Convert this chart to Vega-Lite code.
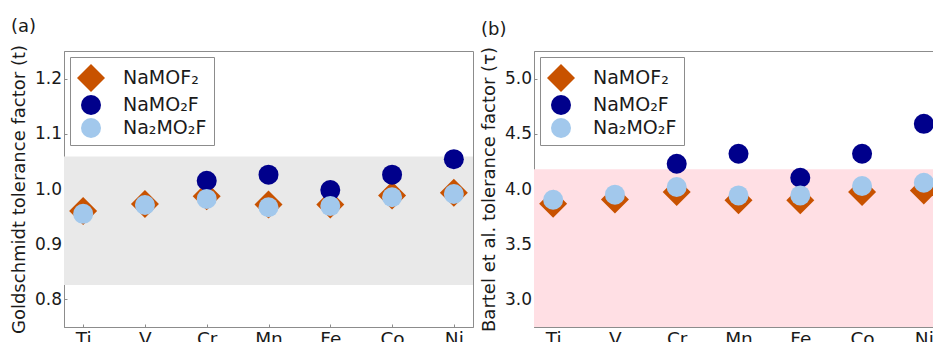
{
  "$schema": "https://vega.github.io/schema/vega-lite/v6.json",
  "padding": {"left": 10, "top": 17, "right": 0, "bottom": 0},
  "spacing": 6,
  "background": "white",
  "config": {
    "font": "DejaVu Sans",
    "view": {"stroke": "#8c8c8c", "strokeWidth": 1},
    "axis": {
      "domainColor": "#8c8c8c",
      "tickColor": "#8c8c8c",
      "tickSize": -3,
      "grid": false,
      "labelColor": "#1a1a1a",
      "titleColor": "#1a1a1a",
      "labelFont": "DejaVu Sans",
      "titleFont": "DejaVu Sans",
      "titleFontWeight": "normal"
    },
    "legend": {
      "orient": "top-left",
      "offset": 6,
      "padding": 7,
      "strokeColor": "#8c8c8c",
      "fillColor": "white",
      "labelFont": "DejaVu Sans",
      "labelFontSize": 19,
      "labelColor": "#1a1a1a",
      "labelOffset": 18,
      "rowPadding": 3,
      "symbolStrokeWidth": 0,
      "symbolOpacity": 1
    },
    "title": {"font": "DejaVu Sans", "fontSize": 18, "fontWeight": "normal", "anchor": "start", "frame": "bounds", "color": "#1a1a1a", "offset": 8}
  },
  "datasets": {
    "goldschmidt": [
      {"metal": "Ti", "compound": "NaMOF₂", "t": 0.960},
      {"metal": "V", "compound": "NaMOF₂", "t": 0.973},
      {"metal": "Cr", "compound": "NaMOF₂", "t": 0.987},
      {"metal": "Mn", "compound": "NaMOF₂", "t": 0.972},
      {"metal": "Fe", "compound": "NaMOF₂", "t": 0.972},
      {"metal": "Co", "compound": "NaMOF₂", "t": 0.988},
      {"metal": "Ni", "compound": "NaMOF₂", "t": 0.993},
      {"metal": "Cr", "compound": "NaMO₂F", "t": 1.015},
      {"metal": "Mn", "compound": "NaMO₂F", "t": 1.026},
      {"metal": "Fe", "compound": "NaMO₂F", "t": 0.998},
      {"metal": "Co", "compound": "NaMO₂F", "t": 1.026},
      {"metal": "Ni", "compound": "NaMO₂F", "t": 1.054},
      {"metal": "Ti", "compound": "Na₂MO₂F", "t": 0.955},
      {"metal": "V", "compound": "Na₂MO₂F", "t": 0.971},
      {"metal": "Cr", "compound": "Na₂MO₂F", "t": 0.982},
      {"metal": "Mn", "compound": "Na₂MO₂F", "t": 0.967},
      {"metal": "Fe", "compound": "Na₂MO₂F", "t": 0.969},
      {"metal": "Co", "compound": "Na₂MO₂F", "t": 0.985},
      {"metal": "Ni", "compound": "Na₂MO₂F", "t": 0.991}
    ],
    "bartel": [
      {"metal": "Ti", "compound": "NaMOF₂", "tau": 3.867},
      {"metal": "V", "compound": "NaMOF₂", "tau": 3.906},
      {"metal": "Cr", "compound": "NaMOF₂", "tau": 3.973},
      {"metal": "Mn", "compound": "NaMOF₂", "tau": 3.897},
      {"metal": "Fe", "compound": "NaMOF₂", "tau": 3.897},
      {"metal": "Co", "compound": "NaMOF₂", "tau": 3.973},
      {"metal": "Ni", "compound": "NaMOF₂", "tau": 3.987},
      {"metal": "Cr", "compound": "NaMO₂F", "tau": 4.229},
      {"metal": "Mn", "compound": "NaMO₂F", "tau": 4.319},
      {"metal": "Fe", "compound": "NaMO₂F", "tau": 4.102},
      {"metal": "Co", "compound": "NaMO₂F", "tau": 4.319},
      {"metal": "Ni", "compound": "NaMO₂F", "tau": 4.590},
      {"metal": "Ti", "compound": "Na₂MO₂F", "tau": 3.903},
      {"metal": "V", "compound": "Na₂MO₂F", "tau": 3.949},
      {"metal": "Cr", "compound": "Na₂MO₂F", "tau": 4.018},
      {"metal": "Mn", "compound": "Na₂MO₂F", "tau": 3.942},
      {"metal": "Fe", "compound": "Na₂MO₂F", "tau": 3.942},
      {"metal": "Co", "compound": "Na₂MO₂F", "tau": 4.027},
      {"metal": "Ni", "compound": "Na₂MO₂F", "tau": 4.057}
    ],
    "bandA": [{"lo": 0.826, "hi": 1.059}],
    "bandB": [{"lo": 2.75, "hi": 4.18}]
  },
  "resolve": {
    "scale": {"color": "independent", "shape": "independent", "size": "independent"},
    "legend": {"color": "independent", "shape": "independent", "size": "independent"}
  },
  "hconcat": [
    {
      "title": {"text": "(a)"},
      "width": 409,
      "height": 276,
      "layer": [
        {
          "data": {"name": "bandA"},
          "mark": {"type": "rect", "color": "#e9e9e9"},
          "encoding": {
            "y": {"field": "hi", "type": "quantitative", "scale": {"domain": [0.75, 1.25], "nice": false, "zero": false}},
            "y2": {"field": "lo"}
          }
        },
        {
          "data": {"name": "goldschmidt"},
          "mark": {"type": "point", "filled": true, "opacity": 1, "strokeWidth": 0},
          "encoding": {
            "x": {"field": "metal", "type": "nominal", "sort": ["Ti", "V", "Cr", "Mn", "Fe", "Co", "Ni"],
                  "scale": {"type": "point", "padding": 0.31},
                  "axis": {"title": null, "labelAngle": 0, "labelFontSize": 18.5, "labelPadding": 5}},
            "y": {"field": "t", "type": "quantitative",
                  "scale": {"domain": [0.75, 1.25], "nice": false, "zero": false},
                  "axis": {"title": "Goldschmidt tolerance factor (t)", "values": [0.8, 0.9, 1.0, 1.1, 1.2], "format": ".1f", "labelFontSize": 17, "titleFontSize": 18, "titlePadding": 5.5, "labelPadding": 5.5}},
            "color": {"field": "compound", "type": "nominal", "scale": {"domain": ["NaMOF₂", "NaMO₂F", "Na₂MO₂F"], "range": ["#C85200", "#00008B", "#A2C8EC"]}, "legend": {"title": null}},
            "shape": {"field": "compound", "type": "nominal", "scale": {"domain": ["NaMOF₂", "NaMO₂F", "Na₂MO₂F"], "range": ["diamond", "circle", "circle"]}, "legend": {"title": null}},
            "size": {"field": "compound", "type": "nominal", "scale": {"type": "ordinal", "domain": ["NaMOF₂", "NaMO₂F", "Na₂MO₂F"], "range": [784, 400, 400]}, "legend": {"title": null}}
          }
        }
      ]
    },
    {
      "title": {"text": "(b)"},
      "width": 409,
      "height": 276,
      "layer": [
        {
          "data": {"name": "bandB"},
          "mark": {"type": "rect", "color": "#ffdfe4", "clip": true},
          "encoding": {
            "y": {"field": "hi", "type": "quantitative", "scale": {"domain": [2.75, 5.25], "nice": false, "zero": false}},
            "y2": {"field": "lo"}
          }
        },
        {
          "data": {"name": "bartel"},
          "mark": {"type": "point", "filled": true, "opacity": 1, "strokeWidth": 0},
          "encoding": {
            "x": {"field": "metal", "type": "nominal", "sort": ["Ti", "V", "Cr", "Mn", "Fe", "Co", "Ni"],
                  "scale": {"type": "point", "padding": 0.31},
                  "axis": {"title": null, "labelAngle": 0, "labelFontSize": 18.5, "labelPadding": 5}},
            "y": {"field": "tau", "type": "quantitative",
                  "scale": {"domain": [2.75, 5.25], "nice": false, "zero": false},
                  "axis": {"title": "Bartel et al. tolerance factor (τ)", "values": [3.0, 3.5, 4.0, 4.5, 5.0], "format": ".1f", "labelFontSize": 17, "titleFontSize": 18, "titlePadding": 5.5, "labelPadding": 5.5}},
            "color": {"field": "compound", "type": "nominal", "scale": {"domain": ["NaMOF₂", "NaMO₂F", "Na₂MO₂F"], "range": ["#C85200", "#00008B", "#A2C8EC"]}, "legend": {"title": null}},
            "shape": {"field": "compound", "type": "nominal", "scale": {"domain": ["NaMOF₂", "NaMO₂F", "Na₂MO₂F"], "range": ["diamond", "circle", "circle"]}, "legend": {"title": null}},
            "size": {"field": "compound", "type": "nominal", "scale": {"type": "ordinal", "domain": ["NaMOF₂", "NaMO₂F", "Na₂MO₂F"], "range": [784, 400, 400]}, "legend": {"title": null}}
          }
        }
      ]
    }
  ]
}
